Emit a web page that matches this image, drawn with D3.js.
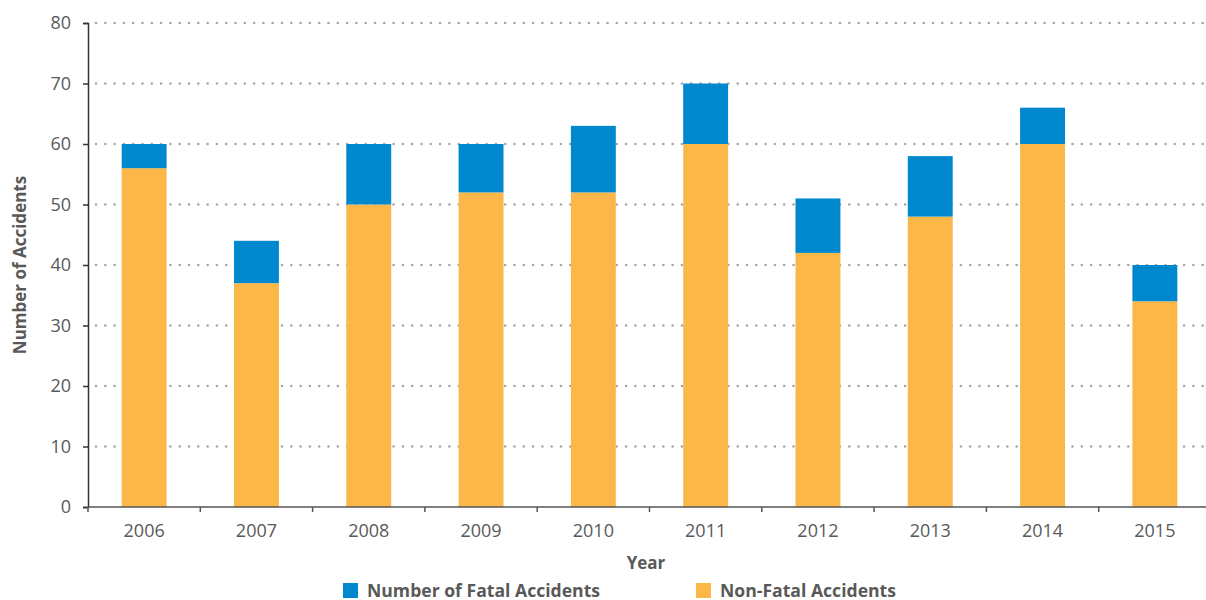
<!DOCTYPE html>
<html>
<head>
<meta charset="utf-8">
<script src="https://cdnjs.cloudflare.com/ajax/libs/d3/7.8.5/d3.min.js"></script>
<style>
  body { margin: 0; background: #fff; }
  svg { display: block; }
</style>
</head>
<body>
<svg width="1206" height="600"></svg>
<script>
// chart data
var years = ["2006","2007","2008","2009","2010","2011","2012","2013","2014","2015"];
var nonFatal = [56, 37, 50, 52, 52, 60, 42, 48, 60, 34];
var fatal = [4, 7, 10, 8, 11, 10, 9, 10, 6, 6];
var yTicks = [0, 10, 20, 30, 40, 50, 60, 70, 80];
var seriesNames = ["Number of Fatal Accidents", "Non-Fatal Accidents"];
var colors = ["#0088cf", "#fbb848"];

var svg = d3.select("svg");
var plotLeft = 88, plotRight = 1211, plotTop = 23, plotBottom = 507;

var x = d3.scaleBand().domain(years).range([plotLeft, plotRight]).paddingInner(0.6).paddingOuter(0.3);
var y = d3.scaleLinear().domain([0, 80]).range([plotBottom, plotTop]);

var textColor = "#595959";

// gridlines (dotted)
svg.append("g").selectAll("line")
    .data(yTicks.filter(function(d){ return d > 0; }))
  .enter().append("line")
    .attr("x1", plotLeft + 8).attr("x2", 1206)
    .attr("y1", function(d){ return y(d); })
    .attr("y2", function(d){ return y(d); })
    .attr("stroke", "#a6a6a6")
    .attr("stroke-width", 2.6)
    .attr("stroke-linecap", "round")
    .attr("stroke-dasharray", "0 9.3");

// stacked bars
var rows = years.map(function(yr, i){ return {year: yr, nonFatal: nonFatal[i], fatal: fatal[i]}; });
var stack = d3.stack().keys(["nonFatal", "fatal"]);
var layers = stack(rows);
var layerColors = {nonFatal: colors[1], fatal: colors[0]};

svg.append("g").selectAll("g")
    .data(layers)
  .enter().append("g")
    .attr("fill", function(d){ return layerColors[d.key]; })
  .selectAll("rect")
    .data(function(d){ return d; })
  .enter().append("rect")
    .attr("x", function(d){ return x(d.data.year); })
    .attr("width", x.bandwidth())
    .attr("y", function(d){ return y(d[1]); })
    .attr("height", function(d){ return y(d[0]) - y(d[1]); });

// y axis
var yAxis = svg.append("g")
    .attr("transform", "translate(" + plotLeft + ",0)")
    .call(d3.axisLeft(y).tickValues(yTicks).tickSize(5).tickPadding(12));
yAxis.select(".domain").attr("stroke", "#333").attr("stroke-width", 1.5);
yAxis.selectAll(".tick line").attr("stroke", "#333").attr("stroke-width", 1.5);
yAxis.selectAll("text")
    .attr("fill", textColor)
    .style("font-family", "'Open Sans', sans-serif")
    .style("font-size", "18px");

// x axis, ticks between categories
var xAxis = svg.append("g")
    .attr("transform", "translate(0," + plotBottom + ")");
xAxis.append("line")
    .attr("x1", plotLeft).attr("x2", 1206)
    .attr("y1", 0).attr("y2", 0)
    .attr("stroke", "#555").attr("stroke-width", 1.5);
var step = x.step();
var bounds = years.map(function(d){ return x(d) - (step - x.bandwidth()) / 2; });
xAxis.selectAll(".sep")
    .data(bounds)
  .enter().append("line")
    .attr("x1", function(d){ return d; }).attr("x2", function(d){ return d; })
    .attr("y1", 0).attr("y2", 5)
    .attr("stroke", "#555").attr("stroke-width", 1.5);
xAxis.selectAll(".lbl")
    .data(years)
  .enter().append("text")
    .attr("x", function(d){ return x(d) + x.bandwidth() / 2; })
    .attr("y", 30)
    .attr("text-anchor", "middle")
    .attr("fill", textColor)
    .style("font-family", "'Open Sans', sans-serif")
    .style("font-size", "18px")
    .text(function(d){ return d; });

// axis titles
svg.append("text")
    .attr("x", 646).attr("y", 569)
    .attr("text-anchor", "middle")
    .attr("fill", textColor)
    .style("font-family", "'Open Sans', sans-serif")
    .style("font-weight", "bold")
    .style("font-size", "17px")
    .text("Year");

svg.append("text")
    .attr("transform", "translate(26,265) rotate(-90)")
    .attr("text-anchor", "middle")
    .attr("fill", textColor)
    .style("font-family", "'Open Sans', sans-serif")
    .style("font-weight", "bold")
    .style("font-size", "17px")
    .text("Number of Accidents");

// legend
var legendX = [343, 696];
var legend = svg.append("g").selectAll("g")
    .data(seriesNames)
  .enter().append("g")
    .attr("transform", function(d, i){ return "translate(" + legendX[i] + ",583)"; });
legend.append("rect")
    .attr("width", 15).attr("height", 15)
    .attr("fill", function(d, i){ return colors[i]; });
legend.append("text")
    .attr("x", 24).attr("y", 13.5)
    .attr("fill", textColor)
    .style("font-family", "'Open Sans', sans-serif")
    .style("font-weight", "bold")
    .style("font-size", "17.6px")
    .text(function(d){ return d; });
</script>
</body>
</html>
